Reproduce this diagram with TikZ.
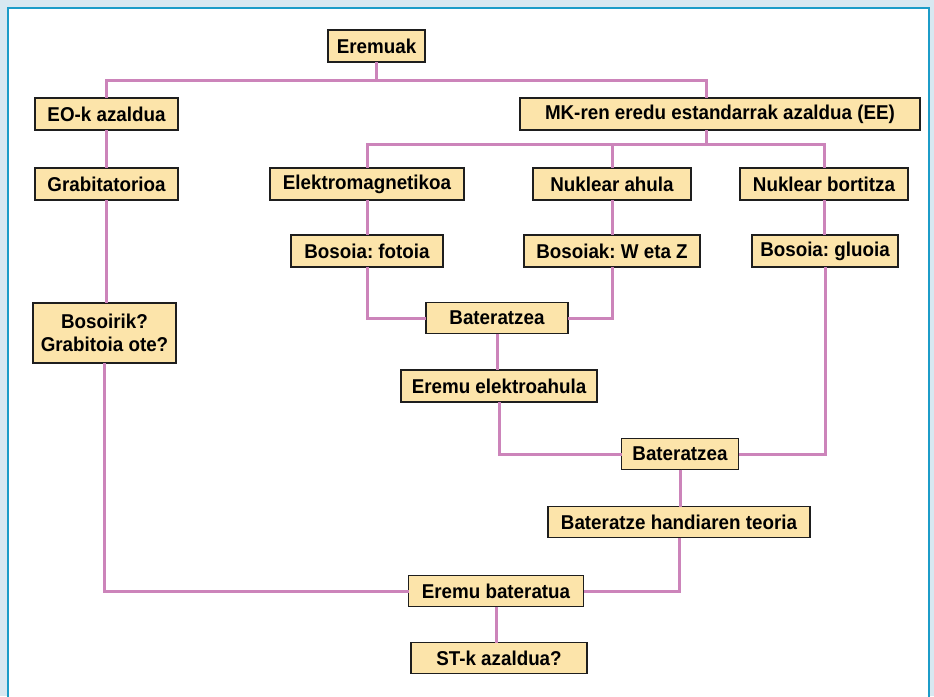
\documentclass[tikz,border=0pt]{standalone}
\usepackage{fontspec}
\setmainfont{Liberation Sans}[FakeStretch=0.94]
\frenchspacing
\definecolor{bgblue}{RGB}{216,232,241}
\definecolor{framec}{RGB}{28,156,200}
\definecolor{boxfill}{RGB}{252,228,170}
\definecolor{boxline}{RGB}{30,30,30}
\definecolor{linkc}{RGB}{204,132,186}
\begin{document}
\begin{tikzpicture}[x=1pt,y=-1pt,
  box/.style={draw=boxline, fill=boxfill, line width=1.6pt, minimum height=32pt,
    inner sep=0pt, outer sep=0pt, font=\fontsize{20}{22.5}\selectfont\bfseries, text=black, align=center},
  link/.style={draw=linkc, line width=3pt}]
\useasboundingbox (0,0) rectangle (934,696);
\fill[bgblue] (0,0) rectangle (934,696);
\fill[white] (8,8) rectangle (929,700);
\draw[framec, line width=2.2pt] (8,700) -- (8,8) -- (929,8) -- (929,700);

\coordinate (j1) at (0,80);
\coordinate (j2) at (0,144);

\node[box, minimum width=97] (eremuak) at (376.5,46) {Eremuak};
\node[box, minimum width=143] (eo) at (106.5,114) {EO-k azaldua};
\node[box, minimum width=400] (mk) at (720,114) {MK-ren eredu estandarrak azaldua (EE)};
\node[box, minimum width=143] (grab) at (106.5,184) {Grabitatorioa};
\node[box, minimum width=194] (elek) at (367,184) {Elektromagnetikoa};
\node[box, minimum width=158] (ahula) at (612,184) {Nuklear ahula};
\node[box, minimum width=168] (bort) at (824,184) {Nuklear bortitza};
\node[box, minimum width=152] (fot) at (367,251) {Bosoia: fotoia};
\node[box, minimum width=176] (wz) at (612,251) {Bosoiak: W eta Z};
\node[box, minimum width=146] (gluo) at (825,251) {Bosoia: gluoia};
\node[box, minimum width=143, minimum height=60] (grabit) at (104.5,333) {Bosoirik?\\Grabitoia ote?};
\node[box, minimum width=142, minimum height=31] (bat1) at (497,318) {Bateratzea};
\node[box, minimum width=196] (elah) at (499,386) {Eremu elektroahula};
\node[box, minimum width=117, minimum height=31] (bat2) at (680,454) {Bateratzea};
\node[box, minimum width=262, minimum height=31] (bht) at (679,522) {Bateratze handiaren teoria};
\node[box, minimum width=175, minimum height=31] (ebat) at (496,591) {Eremu bateratua};
\node[box, minimum width=176, minimum height=31] (st) at (499,658) {ST-k azaldua?};

\coordinate (mkt) at ([xshift=-14pt]mk.north);
\coordinate (mkb) at ([xshift=-14pt]mk.south);

\draw[link] (eremuak.south) -- (eremuak.south |- j1);
\draw[link] (eo.north) |- (mkt |- j1) -- (mkt);
\draw[link] (eo.south) -- (grab.north);
\draw[link] (grab.south) -- (grab.south |- grabit.north);
\draw[link] (grabit.south) |- (ebat.west);
\draw[link] (mkb) -- (mkb |- j2);
\draw[link] (elek.north) |- (bort.north |- j2) -- (bort.north);
\draw[link] (ahula.north) -- (ahula.north |- j2);
\draw[link] (elek.south) -- (fot.north);
\draw[link] (ahula.south) -- (wz.north);
\draw[link] (bort.south) -- (bort.south |- gluo.north);
\draw[link] (fot.south) |- (bat1.west);
\draw[link] (wz.south) |- (bat1.east);
\draw[link] (bat1.south) -- (bat1.south |- elah.north);
\draw[link] (elah.south) |- (bat2.west);
\draw[link] (gluo.south) |- (bat2.east);
\draw[link] (bat2.south) -- (bat2.south |- bht.north);
\draw[link] (bht.south) |- (ebat.east);
\draw[link] (ebat.south) -- (ebat.south |- st.north);
\end{tikzpicture}
\end{document}
